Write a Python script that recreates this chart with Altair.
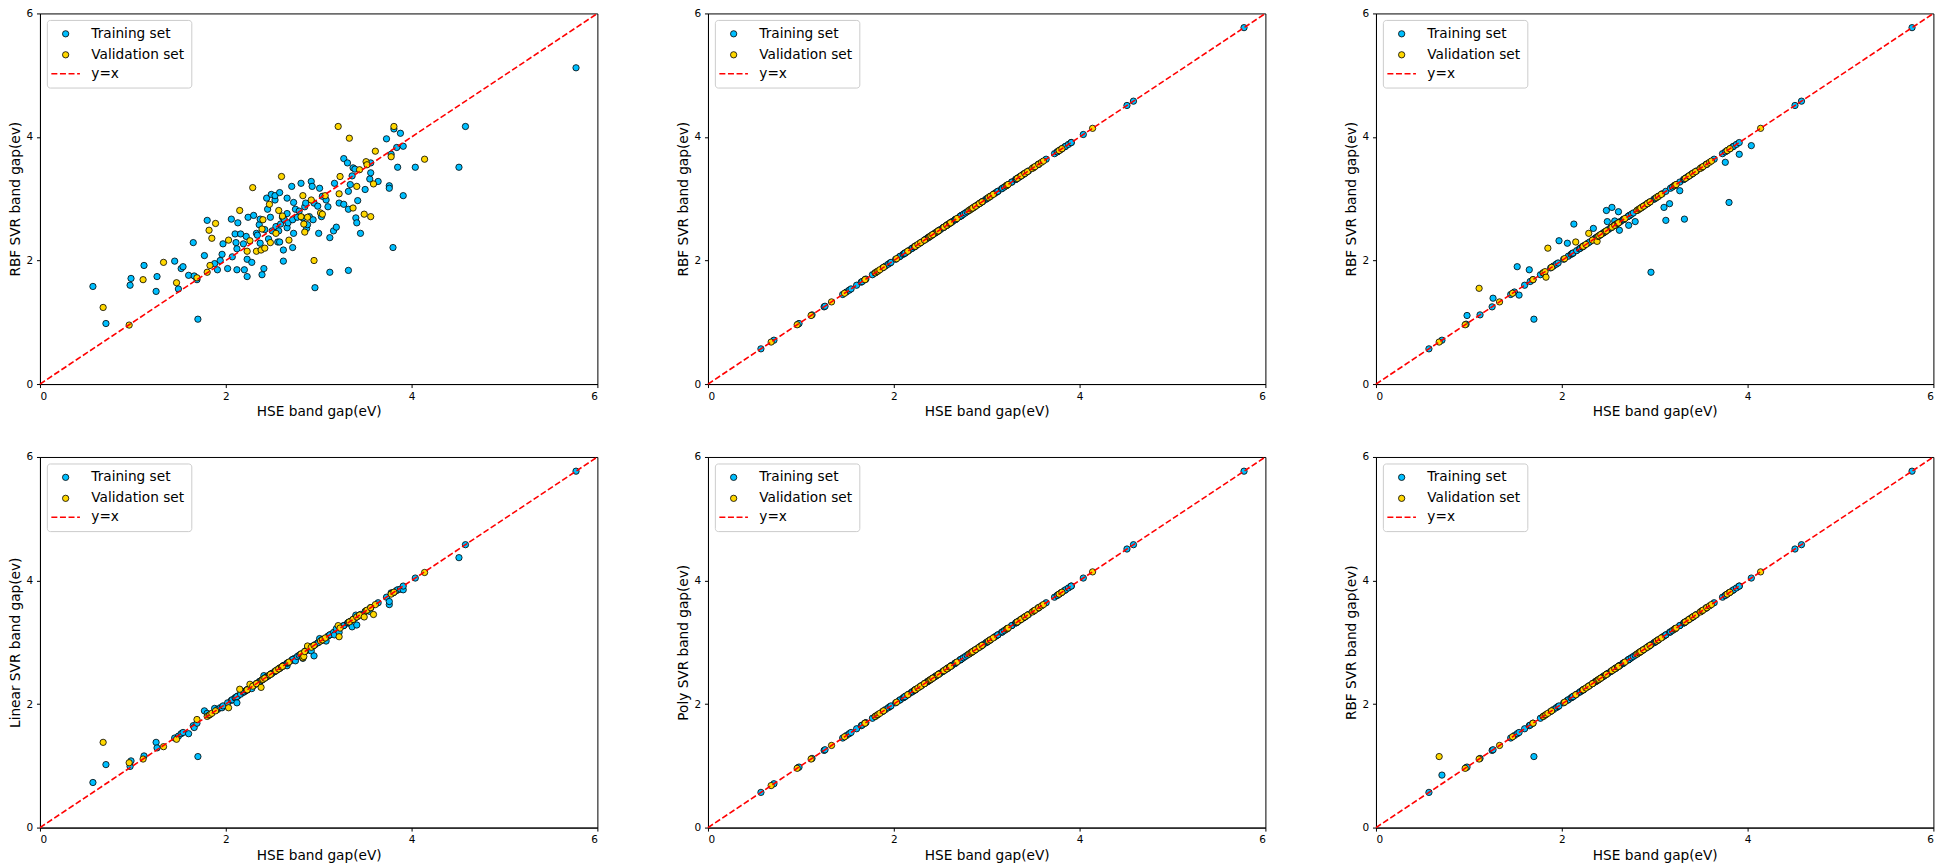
import altair as alt
import pandas as pd

BLUE = "#00bfff"
GOLD = "#ffd700"
FONT = "DejaVu Sans"

ticks = [0, 2, 4, 6]
diag = [0, 6]

hse_train = [
    0.57, 0.71, 0.97, 0.98, 1.12, 1.25, 1.26, 1.45, 1.49, 1.52,
    1.54, 1.60, 1.65, 1.66, 1.69, 1.70, 1.77, 1.80, 1.88, 1.91,
    1.94, 1.96, 1.97, 2.02, 2.06, 2.07, 2.10, 2.11, 2.12, 2.13,
    2.12, 2.16, 2.19, 2.20, 2.22, 2.23, 2.23, 2.24, 2.28, 2.30,
    2.33, 2.34, 2.36, 2.37, 2.37, 2.39, 2.41, 2.42, 2.44, 2.45,
    2.46, 2.48, 2.49, 2.50, 2.53, 2.53, 2.54, 2.56, 2.57, 2.58,
    2.58, 2.59, 2.61, 2.62, 2.62, 2.63, 2.66, 2.66, 2.66, 2.67,
    2.71, 2.72, 2.73, 2.73, 2.72, 2.75, 2.77, 2.79, 2.81, 2.83,
    2.85, 2.86, 2.87, 2.88, 2.90, 2.92, 2.93, 2.94, 2.95, 2.96,
    2.99, 3.00, 3.01, 3.03, 3.04, 3.08, 3.10, 3.12, 3.12, 3.16,
    3.17, 3.19, 3.22, 3.27, 3.27, 3.31, 3.32, 3.32, 3.32, 3.34,
    3.36, 3.37, 3.39, 3.40, 3.41, 3.42, 3.45, 3.50, 3.55, 3.56,
    3.56, 3.64, 3.73, 3.76, 3.76, 3.78, 3.80, 3.81, 3.84, 3.85,
    3.88, 3.91, 3.91, 4.04, 4.51, 4.58, 5.77,
]

hse_val = [
    0.68, 0.96, 1.11, 1.33, 1.47, 1.69, 1.80, 1.82, 1.83, 1.85,
    1.89, 2.03, 2.15, 2.23, 2.26, 2.29, 2.33, 2.38, 2.39, 2.40,
    2.42, 2.47, 2.48, 2.54, 2.57, 2.60, 2.61, 2.68, 2.81, 2.83,
    2.84, 2.85, 2.88, 2.92, 2.95, 3.02, 3.04, 3.07, 3.21, 3.22,
    3.23, 3.33, 3.37, 3.41, 3.44, 3.49, 3.51, 3.52, 3.56, 3.59,
    3.61, 3.78, 3.81, 4.14,
]

# Panel 1: RBF SVR (default parameters)
rbf_a_train = [
    1.58, 0.98, 1.60, 1.71, 1.92, 1.50, 1.74, 1.99, 1.54, 1.87,
    1.90, 1.76, 2.29, 1.75, 1.69, 1.05, 2.08, 2.65, 1.95, 1.85,
    2.00, 2.10, 2.27, 1.87, 2.67, 2.06, 2.43, 2.29, 1.85, 2.61,
    2.19, 2.43, 2.27, 1.85, 2.39, 2.02, 1.74, 2.70, 1.97, 2.73,
    2.44, 2.41, 2.58, 2.28, 2.67, 1.77, 1.87, 2.50, 3.01, 2.83,
    2.35, 2.70, 3.07, 2.48, 2.98, 3.05, 2.55, 2.30, 2.48, 3.10,
    2.30, 2.59, 2.70, 2.17, 1.99, 2.66, 3.01, 2.53, 2.76, 2.61,
    3.20, 2.66, 2.44, 2.94, 2.21, 2.83, 2.70, 2.80, 3.25, 2.69,
    2.87, 2.93, 2.52, 2.58, 2.71, 3.28, 3.20, 2.66, 2.93, 1.56,
    2.88, 2.44, 3.17, 2.71, 3.04, 2.98, 2.87, 2.37, 1.81, 2.48,
    3.25, 2.54, 2.93, 3.65, 2.91, 3.58, 1.84, 3.12, 2.83, 3.23,
    3.37, 3.50, 3.48, 2.69, 2.61, 2.97, 2.44, 3.15, 3.32, 3.58,
    3.42, 3.28, 3.97, 3.21, 3.17, 3.72, 2.21, 4.13, 3.83, 3.51,
    4.06, 3.85, 3.05, 3.51, 3.51, 4.17, 5.12,
]
rbf_a_val = [
    1.24, 0.955, 1.69, 1.97, 1.64, 1.72, 1.81, 2.49, 1.92, 2.36,
    2.60, 2.33, 2.81, 2.15, 2.32, 3.18, 2.15, 2.17, 2.51, 2.66,
    2.20, 2.91, 2.29, 2.44, 2.81, 3.36, 2.72, 2.33, 2.71, 3.05,
    2.59, 2.46, 2.70, 2.98, 2.00, 2.77, 2.75, 3.05, 4.17, 3.08,
    3.36, 3.98, 2.85, 3.20, 3.47, 2.75, 3.60, 3.55, 2.71, 3.24,
    3.77, 3.68, 4.17, 3.64,
]

# Panel 2: RBF SVR (tuned) - on the diagonal
rbf_b_train = [
    0.57, 0.71, 0.97, 0.98, 1.12, 1.25, 1.26, 1.45, 1.49, 1.52,
    1.54, 1.60, 1.65, 1.66, 1.69, 1.70, 1.77, 1.80, 1.88, 1.91,
    1.94, 1.96, 1.97, 2.02, 2.06, 2.07, 2.10, 2.11, 2.12, 2.13,
    2.12, 2.16, 2.19, 2.20, 2.22, 2.23, 2.23, 2.24, 2.28, 2.30,
    2.33, 2.34, 2.36, 2.37, 2.37, 2.39, 2.41, 2.42, 2.44, 2.45,
    2.46, 2.48, 2.49, 2.50, 2.53, 2.53, 2.54, 2.56, 2.57, 2.58,
    2.58, 2.59, 2.61, 2.62, 2.62, 2.63, 2.66, 2.66, 2.66, 2.67,
    2.71, 2.72, 2.73, 2.73, 2.72, 2.75, 2.77, 2.79, 2.81, 2.83,
    2.85, 2.86, 2.87, 2.88, 2.90, 2.92, 2.93, 2.94, 2.95, 2.96,
    2.99, 3.00, 3.01, 3.03, 3.04, 3.08, 3.10, 3.12, 3.12, 3.16,
    3.17, 3.19, 3.22, 3.27, 3.27, 3.31, 3.32, 3.32, 3.32, 3.34,
    3.36, 3.37, 3.39, 3.40, 3.41, 3.42, 3.45, 3.50, 3.55, 3.56,
    3.56, 3.64, 3.73, 3.76, 3.76, 3.78, 3.80, 3.81, 3.84, 3.85,
    3.88, 3.91, 3.91, 4.04, 4.51, 4.58, 5.77,
]
rbf_b_val = [
    0.68, 0.96, 1.11, 1.33, 1.47, 1.69, 1.80, 1.82, 1.83, 1.85,
    1.89, 2.03, 2.15, 2.23, 2.26, 2.29, 2.33, 2.38, 2.39, 2.40,
    2.42, 2.47, 2.48, 2.54, 2.57, 2.60, 2.61, 2.68, 2.81, 2.83,
    2.84, 2.85, 2.88, 2.92, 2.95, 3.02, 3.04, 3.07, 3.21, 3.22,
    3.23, 3.33, 3.37, 3.41, 3.44, 3.49, 3.51, 3.52, 3.56, 3.59,
    3.61, 3.78, 3.81, 4.14,
]

# Panel 3: RBF SVR (partial tuning)
rbf_c_train = [
    0.57, 0.71, 0.97, 1.11, 1.12, 1.25, 1.39, 1.45, 1.49, 1.90,
    1.44, 1.60, 1.85, 1.66, 1.69, 1.05, 1.77, 1.80, 1.88, 1.91,
    1.94, 1.96, 2.32, 2.02, 2.28, 2.07, 2.10, 2.11, 2.12, 2.59,
    2.12, 2.16, 2.19, 2.20, 2.22, 2.23, 2.23, 2.24, 2.28, 2.30,
    2.33, 2.52, 2.36, 2.37, 2.37, 2.39, 2.41, 2.42, 2.44, 2.45,
    2.46, 2.81, 2.63, 2.50, 2.53, 2.53, 2.86, 2.56, 2.64, 2.58,
    2.58, 2.59, 2.79, 2.49, 2.62, 2.63, 2.66, 2.66, 2.66, 2.67,
    2.71, 2.57, 2.73, 2.73, 2.72, 2.75, 2.77, 2.63, 2.81, 2.83,
    2.85, 2.86, 2.87, 2.88, 2.90, 2.92, 2.93, 2.94, 2.95, 1.81,
    2.99, 3.00, 3.01, 3.03, 3.04, 3.08, 2.86, 2.65, 3.12, 2.92,
    3.17, 3.19, 3.22, 3.27, 3.13, 3.31, 3.32, 3.32, 2.67, 3.34,
    3.36, 3.37, 3.39, 3.40, 3.41, 3.42, 3.45, 3.50, 3.55, 3.56,
    3.56, 3.64, 3.73, 3.59, 3.76, 3.78, 2.94, 3.81, 3.84, 3.85,
    3.88, 3.91, 3.72, 3.86, 4.51, 4.58, 5.77,
]
rbf_c_val = [
    0.68, 0.96, 1.55, 1.33, 1.47, 1.69, 1.80, 1.82, 1.73, 2.20,
    1.89, 2.03, 2.30, 2.23, 2.26, 2.44, 2.33, 2.31, 2.39, 2.40,
    2.42, 2.47, 2.48, 2.54, 2.57, 2.60, 2.61, 2.68, 2.81, 2.83,
    2.84, 2.85, 2.88, 2.92, 2.95, 3.02, 3.04, 3.07, 3.21, 3.22,
    3.23, 3.33, 3.37, 3.41, 3.44, 3.49, 3.51, 3.52, 3.56, 3.59,
    3.61, 3.78, 3.81, 4.14,
]

# Panel 4: Linear SVR
lin_train = [
    0.73, 1.02, 0.99, 1.08, 1.16, 1.38, 1.29, 1.45, 1.48, 1.52,
    1.54, 1.52, 1.65, 1.62, 1.69, 1.15, 1.89, 1.85, 1.93, 1.91,
    1.94, 1.94, 1.97, 2.02, 2.06, 2.07, 2.10, 2.11, 2.02, 2.13,
    2.12, 2.16, 2.19, 2.20, 2.22, 2.23, 2.23, 2.24, 2.25, 2.30,
    2.33, 2.34, 2.36, 2.37, 2.37, 2.39, 2.46, 2.42, 2.44, 2.45,
    2.46, 2.48, 2.49, 2.50, 2.53, 2.53, 2.54, 2.56, 2.57, 2.58,
    2.58, 2.59, 2.61, 2.62, 2.62, 2.63, 2.66, 2.62, 2.66, 2.67,
    2.71, 2.72, 2.73, 2.73, 2.72, 2.70, 2.77, 2.79, 2.81, 2.74,
    2.85, 2.86, 2.87, 2.88, 2.90, 2.86, 2.93, 2.94, 2.78, 2.96,
    2.99, 3.00, 3.06, 3.03, 3.04, 3.02, 3.10, 3.12, 3.12, 3.16,
    3.12, 3.22, 3.16, 3.27, 3.27, 3.31, 3.32, 3.32, 3.32, 3.34,
    3.25, 3.37, 3.39, 3.44, 3.28, 3.42, 3.45, 3.50, 3.50, 3.56,
    3.56, 3.64, 3.73, 3.61, 3.66, 3.80, 3.80, 3.81, 3.84, 3.85,
    3.86, 3.85, 3.91, 4.04, 4.37, 4.58, 5.77,
]
lin_val = [
    1.38, 1.05, 1.11, 1.31, 1.43, 1.75, 1.80, 1.82, 1.83, 1.85,
    1.89, 1.94, 2.24, 2.23, 2.32, 2.29, 2.33, 2.27, 2.39, 2.40,
    2.42, 2.47, 2.48, 2.54, 2.57, 2.60, 2.61, 2.68, 2.81, 2.75,
    2.77, 2.85, 2.94, 2.92, 2.95, 3.02, 3.04, 3.07, 3.27, 3.09,
    3.23, 3.33, 3.37, 3.41, 3.44, 3.41, 3.51, 3.52, 3.56, 3.45,
    3.61, 3.78, 3.81, 4.13,
]

# Panel 5: Poly SVR - on the diagonal
poly_train = [
    0.57, 0.71, 0.97, 0.98, 1.12, 1.25, 1.26, 1.45, 1.49, 1.52,
    1.54, 1.60, 1.65, 1.66, 1.69, 1.70, 1.77, 1.80, 1.88, 1.91,
    1.94, 1.96, 1.97, 2.02, 2.06, 2.07, 2.10, 2.11, 2.12, 2.13,
    2.12, 2.16, 2.19, 2.20, 2.22, 2.23, 2.23, 2.24, 2.28, 2.30,
    2.33, 2.34, 2.36, 2.37, 2.37, 2.39, 2.41, 2.42, 2.44, 2.45,
    2.46, 2.48, 2.49, 2.50, 2.53, 2.53, 2.54, 2.56, 2.57, 2.58,
    2.58, 2.59, 2.61, 2.62, 2.62, 2.63, 2.66, 2.66, 2.66, 2.67,
    2.71, 2.72, 2.73, 2.73, 2.72, 2.75, 2.77, 2.79, 2.81, 2.83,
    2.85, 2.86, 2.87, 2.88, 2.90, 2.92, 2.93, 2.94, 2.95, 2.96,
    2.99, 3.00, 3.01, 3.03, 3.04, 3.08, 3.10, 3.12, 3.12, 3.16,
    3.17, 3.19, 3.22, 3.27, 3.27, 3.31, 3.32, 3.32, 3.32, 3.34,
    3.36, 3.37, 3.39, 3.40, 3.41, 3.42, 3.45, 3.50, 3.55, 3.56,
    3.56, 3.64, 3.73, 3.76, 3.76, 3.78, 3.80, 3.81, 3.84, 3.85,
    3.88, 3.91, 3.91, 4.04, 4.51, 4.58, 5.77,
]
poly_val = [
    0.68, 0.96, 1.11, 1.33, 1.47, 1.69, 1.80, 1.82, 1.83, 1.85,
    1.89, 2.03, 2.15, 2.23, 2.26, 2.29, 2.33, 2.38, 2.39, 2.40,
    2.42, 2.47, 2.48, 2.54, 2.57, 2.60, 2.61, 2.68, 2.81, 2.83,
    2.84, 2.85, 2.88, 2.92, 2.95, 3.02, 3.04, 3.07, 3.21, 3.22,
    3.23, 3.33, 3.37, 3.41, 3.44, 3.49, 3.51, 3.52, 3.56, 3.59,
    3.61, 3.78, 3.81, 4.14,
]

# Panel 6: RBF SVR
rbf_d_train = [
    0.57, 0.85, 0.97, 0.98, 1.12, 1.25, 1.26, 1.45, 1.49, 1.52,
    1.54, 1.60, 1.65, 1.66, 1.69, 1.15, 1.77, 1.80, 1.88, 1.91,
    1.94, 1.96, 1.97, 2.02, 2.06, 2.07, 2.10, 2.11, 2.12, 2.13,
    2.12, 2.16, 2.19, 2.20, 2.22, 2.23, 2.23, 2.24, 2.28, 2.30,
    2.33, 2.34, 2.36, 2.37, 2.37, 2.39, 2.41, 2.42, 2.44, 2.45,
    2.46, 2.48, 2.49, 2.50, 2.53, 2.53, 2.54, 2.56, 2.57, 2.58,
    2.58, 2.59, 2.61, 2.62, 2.62, 2.63, 2.66, 2.66, 2.66, 2.67,
    2.71, 2.72, 2.73, 2.73, 2.72, 2.75, 2.77, 2.79, 2.81, 2.83,
    2.85, 2.86, 2.87, 2.88, 2.90, 2.92, 2.93, 2.94, 2.95, 2.96,
    2.99, 3.00, 3.01, 3.03, 3.04, 3.08, 3.10, 3.12, 3.12, 3.16,
    3.17, 3.19, 3.22, 3.27, 3.27, 3.31, 3.32, 3.32, 3.32, 3.34,
    3.36, 3.37, 3.39, 3.40, 3.41, 3.42, 3.45, 3.50, 3.55, 3.56,
    3.56, 3.64, 3.73, 3.76, 3.76, 3.78, 3.80, 3.81, 3.84, 3.85,
    3.88, 3.91, 3.91, 4.04, 4.51, 4.58, 5.77,
]
rbf_d_val = [
    1.15, 0.96, 1.11, 1.33, 1.47, 1.69, 1.80, 1.82, 1.83, 1.85,
    1.89, 2.03, 2.15, 2.23, 2.26, 2.29, 2.33, 2.38, 2.39, 2.40,
    2.42, 2.47, 2.48, 2.54, 2.57, 2.60, 2.61, 2.68, 2.81, 2.83,
    2.84, 2.85, 2.88, 2.92, 2.95, 3.02, 3.04, 3.07, 3.21, 3.22,
    3.23, 3.33, 3.37, 3.41, 3.44, 3.49, 3.51, 3.52, 3.56, 3.59,
    3.61, 3.78, 3.81, 4.14,
]

y_titles = [
    "RBF SVR band gap(ev)", "RBF SVR band gap(ev)", "RBF SVR band gap(ev)",
    "Linear SVR band gap(ev)", "Poly SVR band gap(ev)", "RBF SVR band gap(ev)",
]
preds = [
    (rbf_a_train, rbf_a_val), (rbf_b_train, rbf_b_val), (rbf_c_train, rbf_c_val),
    (lin_train, lin_val), (poly_train, poly_val), (rbf_d_train, rbf_d_val),
]
legend_labels = ["Training set", "Validation set", "y=x"]

W, H = 558, 371
one = pd.DataFrame({"k": [0]})


def panel(ytitle, tr, va):
    xs = alt.Scale(domain=[0, 6], nice=False, zero=False)
    ys = alt.Scale(domain=[0, 6], nice=False, zero=False)
    xax = alt.Axis(values=ticks, format="d", title="HSE band gap(eV)")
    yax = alt.Axis(values=ticks, format="d", title=ytitle)
    df_tr = pd.DataFrame({"hse": hse_train, "pred": tr})
    df_va = pd.DataFrame({"hse": hse_val, "pred": va})
    df_ln = pd.DataFrame({"hse": diag, "pred": diag})
    enc = dict(x=alt.X("hse:Q", scale=xs, axis=xax), y=alt.Y("pred:Q", scale=ys, axis=yax))
    p_tr = alt.Chart(df_tr).mark_circle(
        color=BLUE, stroke="black", strokeWidth=0.8, opacity=1, size=40
    ).encode(**enc)
    p_va = alt.Chart(df_va).mark_circle(
        color=GOLD, stroke="black", strokeWidth=0.8, opacity=1, size=40
    ).encode(x="hse:Q", y="pred:Q")
    ln = alt.Chart(df_ln).mark_line(
        color="red", strokeDash=[6, 2.6], strokeWidth=1.6
    ).encode(x="hse:Q", y="pred:Q")

    box = alt.Chart(one).mark_rect(
        fill="white", fillOpacity=0.8, stroke="#cccccc", strokeWidth=1, cornerRadius=3
    ).encode(x=alt.value(7.4), x2=alt.value(152), y=alt.value(7), y2=alt.value(74.7))
    s1 = alt.Chart(one).mark_circle(
        color=BLUE, stroke="black", strokeWidth=0.8, opacity=1, size=40
    ).encode(x=alt.value(25.7), y=alt.value(20.4))
    s2 = alt.Chart(one).mark_circle(
        color=GOLD, stroke="black", strokeWidth=0.8, opacity=1, size=40
    ).encode(x=alt.value(25.7), y=alt.value(41.4))
    s3 = alt.Chart(one).mark_rule(
        color="red", strokeDash=[6, 2.6], strokeWidth=1.6
    ).encode(x=alt.value(11.4), x2=alt.value(40), y=alt.value(60.4))
    texts = []
    for lab, yy in zip(legend_labels, [20.4, 41.4, 60.4]):
        texts.append(
            alt.Chart(one).mark_text(
                align="left", baseline="middle", font=FONT, fontSize=13.7, color="black"
            ).encode(x=alt.value(51.4), y=alt.value(yy), text=alt.value(lab))
        )
    return alt.layer(p_tr, p_va, ln, box, s1, s2, s3, *texts).properties(width=W, height=H)


panels = [panel(t, a, b) for t, (a, b) in zip(y_titles, preds)]
chart = alt.concat(
    *panels, columns=3, bounds="flush",
    spacing=alt.RowColnumber(row=73, column=110.7),
).properties(
    padding={"left": 0, "top": -1, "right": 0, "bottom": 0}
).configure_view(
    stroke="black", strokeWidth=1
).configure_axis(
    labelFont=FONT, labelFontSize=10.5, labelColor="black",
    titleFont=FONT, titleFontSize=13.7, titleFontWeight="normal", titleColor="black",
    tickColor="black", tickSize=3.5, tickWidth=1, domainColor="black", domainWidth=1,
    grid=False, labelPadding=3.8,
).configure_axisX(titlePadding=3).configure_axisY(titlePadding=3.5)

chart.save("out.html", embed_options={"renderer": "svg", "actions": False})
